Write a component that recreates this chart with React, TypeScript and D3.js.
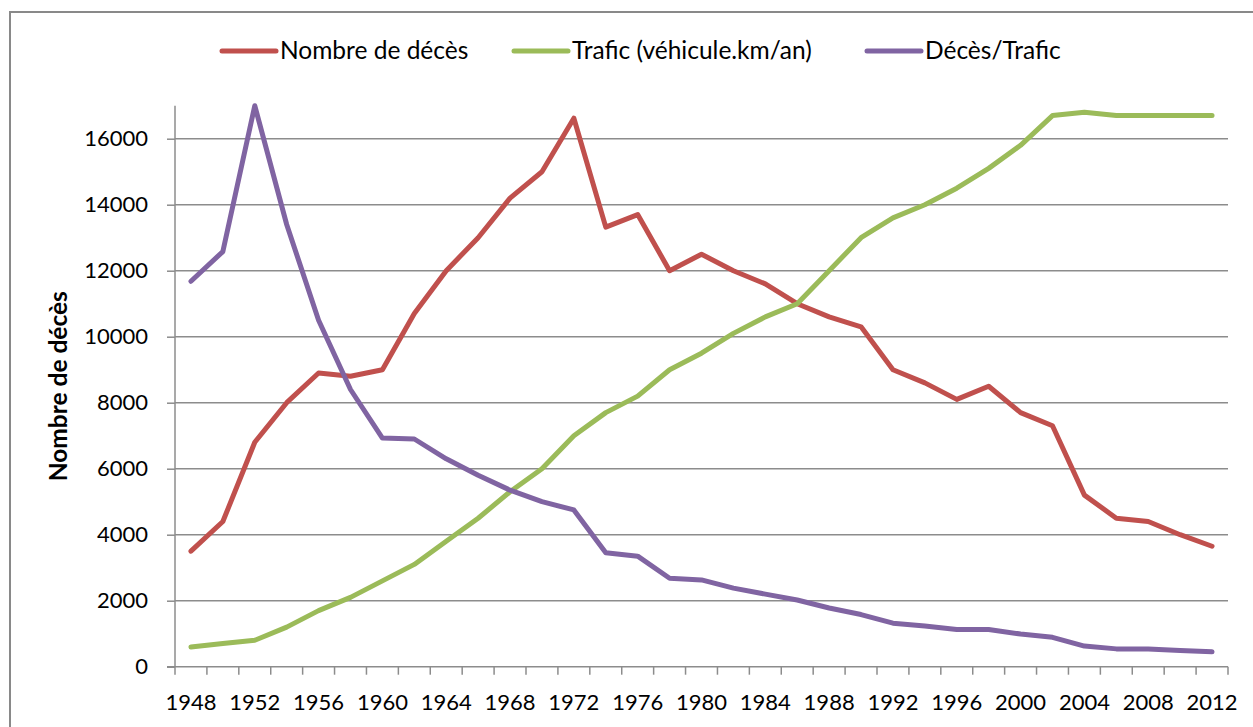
import React, { useEffect, useRef } from 'react';
import * as d3 from 'd3';

const years = [
  1948, 1950, 1952, 1954, 1956, 1958, 1960, 1962, 1964, 1966, 1968,
  1970, 1972, 1974, 1976, 1978, 1980, 1982, 1984, 1986, 1988, 1990,
  1992, 1994, 1996, 1998, 2000, 2002, 2004, 2006, 2008, 2010, 2012,
];

const deces = [
  3500, 4400, 6800, 8000, 8900, 8800, 9000, 10700, 12000, 13000, 14200,
  15000, 16620, 13320, 13700, 12000, 12500, 12000, 11600, 11000, 10600, 10300,
  9000, 8600, 8100, 8500, 7700, 7300, 5200, 4500, 4400, 4000, 3650,
];

const trafic = [
  600, 700, 800, 1200, 1700, 2100, 2600, 3100, 3800, 4500, 5300,
  6000, 7000, 7700, 8200, 9000, 9500, 10100, 10600, 11000, 12000, 13000,
  13600, 14000, 14500, 15100, 15800, 16700, 16800, 16700, 16700, 16700, 16700,
];

const decesParTrafic = [
  11680, 12580, 17000, 13400, 10500, 8400, 6930, 6900, 6300, 5800, 5350,
  5000, 4750, 3450, 3350, 2680, 2630, 2380, 2200, 2020, 1780, 1580,
  1320, 1230, 1130, 1130, 990, 890, 625, 540, 535, 490, 450,
];

const yTicks = [0, 2000, 4000, 6000, 8000, 10000, 12000, 14000, 16000];

const seriesNames = ['Nombre de décès', 'Trafic (véhicule.km/an)', 'Décès/Trafic'];
const seriesColors = ['#C0504D', '#9BBB59', '#8064A2'];

const W = 1253;
const H = 727;
const FONT = 'Lato, Calibri, "Open Sans", sans-serif';

export default function App() {
  const ref = useRef<SVGSVGElement>(null);

  useEffect(() => {
    const svg = d3.select(ref.current);
    svg.selectAll('*').remove();

    const left = 175, right = 1228, top = 105.7, bottom = 666.7;

    const x = d3.scaleBand<number>().domain(years).range([left, right]).padding(0);
    const y = d3.scaleLinear().domain([0, 17000]).range([bottom, top]);

    // chart border
    svg.append('rect')
      .attr('x', 10).attr('y', 12)
      .attr('width', W + 20).attr('height', H + 20)
      .attr('fill', '#fff')
      .attr('stroke', '#898989')
      .attr('stroke-width', 2);

    // gridlines
    svg.append('g')
      .selectAll('line')
      .data(yTicks.filter((t) => t > 0))
      .enter()
      .append('line')
      .attr('x1', left).attr('x2', right)
      .attr('y1', (d) => y(d)).attr('y2', (d) => y(d))
      .attr('stroke', '#8c8c8c')
      .attr('stroke-width', 1.5);

    // y axis
    const yAxis = d3.axisLeft(y).tickValues(yTicks).tickSize(8).tickPadding(19).tickFormat(d3.format('d'));
    const gy = svg.append('g').attr('transform', `translate(${left},0)`).call(yAxis);
    gy.selectAll('.domain').attr('stroke', '#8c8c8c').attr('stroke-width', 1.5)
      .attr('d', `M0,${top}V${bottom}`);
    gy.selectAll('.tick line').attr('stroke', '#8c8c8c').attr('stroke-width', 1.5);
    gy.selectAll('.tick text')
      .attr('font-family', FONT).attr('font-size', 22).attr('fill', '#000');

    // x axis: ticks at category boundaries, labels every other category
    const gx = svg.append('g');
    gx.append('line')
      .attr('x1', left - 8).attr('x2', right)
      .attr('y1', bottom).attr('y2', bottom)
      .attr('stroke', '#8c8c8c').attr('stroke-width', 1.5);
    const edges = years.map((yr) => x(yr) as number).concat([right]);
    gx.selectAll('line.tk')
      .data(edges)
      .enter()
      .append('line')
      .attr('class', 'tk')
      .attr('x1', (d) => d).attr('x2', (d) => d)
      .attr('y1', bottom).attr('y2', bottom + 8)
      .attr('stroke', '#8c8c8c').attr('stroke-width', 1.5);
    gx.selectAll('text')
      .data(years.filter((_, i) => i % 2 === 0))
      .enter()
      .append('text')
      .attr('x', (d) => (x(d) as number) + x.bandwidth() / 2)
      .attr('y', bottom + 43)
      .attr('text-anchor', 'middle')
      .attr('font-family', FONT).attr('font-size', 22)
      .text((d) => String(d));

    // y axis title
    svg.append('text')
      .attr('transform', `translate(67,${(top + bottom) / 2}) rotate(-90)`)
      .attr('text-anchor', 'middle')
      .attr('font-family', FONT).attr('font-size', 24.5).attr('font-weight', 'bold')
      .text('Nombre de décès');

    // lines
    const allSeries = [deces, trafic, decesParTrafic];
    const line = d3.line<number>()
      .x((_, i) => (x(years[i]) as number) + x.bandwidth() / 2)
      .y((d) => y(d));
    svg.append('g')
      .selectAll('path')
      .data(allSeries)
      .enter()
      .append('path')
      .attr('d', (d) => line(d))
      .attr('fill', 'none')
      .attr('stroke', (_, i) => seriesColors[i])
      .attr('stroke-width', 5)
      .attr('stroke-linejoin', 'round')
      .attr('stroke-linecap', 'round');

    // legend
    const legendX = [222, 514, 867];
    const lg = svg.append('g');
    seriesNames.forEach((name, i) => {
      lg.append('line')
        .attr('x1', legendX[i]).attr('x2', legendX[i] + 54)
        .attr('y1', 51).attr('y2', 51)
        .attr('stroke', seriesColors[i])
        .attr('stroke-width', 5)
        .attr('stroke-linecap', 'round');
      lg.append('text')
        .attr('x', legendX[i] + 58)
        .attr('y', 59)
        .attr('font-family', FONT).attr('font-size', 24.5)
        .text(name);
    });
  }, []);

  return (
    <svg
      ref={ref}
      width={W}
      height={H}
      style={{ position: 'absolute', left: 0, top: 0, background: '#fff' }}
    />
  );
}
